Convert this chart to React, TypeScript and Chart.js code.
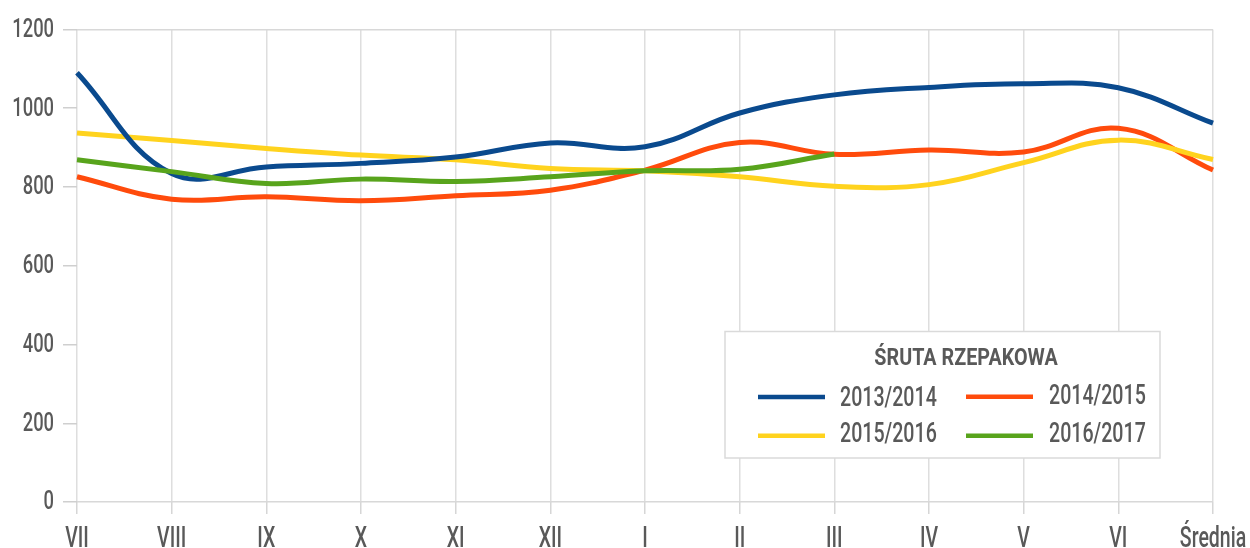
import { useEffect, useRef } from 'react';
import { Chart, registerables } from 'chart.js';

Chart.register(...registerables);

const FONT = "Roboto, 'DejaVu Sans Condensed', sans-serif";
const TEXT = '#595959';

const categories = ['VII', 'VIII', 'IX', 'X', 'XI', 'XII', 'I', 'II', 'III', 'IV', 'V', 'VI', 'Średnia'];
const yTicks = [0, 200, 400, 600, 800, 1000, 1200];

const s2013 = [1090, 834, 851, 860, 876, 912, 902, 988, 1034, 1053, 1062, 1052, 962];
const s2014 = [826, 769, 775, 765, 778, 792, 843, 913, 883, 894, 889, 949, 843];
const s2015 = [937, 918, 898, 881, 869, 847, 841, 826, 802, 806, 862, 919, 870];
const s2016 = [869, 839, 809, 820, 814, 826, 841, 845, 884, null, null, null, null];

const seriesNames = ['2013/2014', '2014/2015', '2015/2016', '2016/2017'];
const seriesColors = ['#0a4a8e', '#ff4b0c', '#ffd31e', '#58a41c'];
const legendTitle = 'ŚRUTA RZEPAKOWA';

function drawText(ctx: CanvasRenderingContext2D, text: string, x: number, y: number, font: string, sx: number, align: CanvasTextAlign) {
  ctx.save();
  ctx.font = font;
  ctx.fillStyle = TEXT;
  ctx.textAlign = align;
  ctx.textBaseline = 'alphabetic';
  ctx.translate(x, y);
  ctx.scale(sx, 1);
  ctx.fillText(text, 0, 0);
  ctx.restore();
}

const textPlugin = {
  id: 'condensedText',
  afterDraw(chart: any) {
    const ctx: CanvasRenderingContext2D = chart.ctx;
    const xs = chart.scales.x;
    const ys = chart.scales.y;
    yTicks.forEach((v) => {
      drawText(ctx, String(v), 54, ys.getPixelForValue(v) + 7.3, `500 25.5px ${FONT}`, 0.72, 'right');
    });
    categories.forEach((c, i) => {
      drawText(ctx, c, xs.getPixelForValue(i), 546.5, `500 30px ${FONT}`, 0.65, 'center');
    });
    ctx.save();
    ctx.fillStyle = '#ffffff';
    ctx.fillRect(725, 331.5, 435, 126.5);
    ctx.strokeStyle = '#dadada';
    ctx.lineWidth = 1.5;
    ctx.strokeRect(725, 331.5, 435, 126.5);
    ctx.restore();
    drawText(ctx, legendTitle, 966, 365, `bold 23.5px ${FONT}`, 0.84, 'center');
    const items = [
      { lineX: 758, textX: 840, lineY: 397, textY: 406 },
      { lineX: 966, textX: 1049, lineY: 396.7, textY: 404 },
      { lineX: 758, textX: 840, lineY: 435.7, textY: 441.7 },
      { lineX: 966, textX: 1049, lineY: 435.7, textY: 441.7 },
    ];
    items.forEach((it, i) => {
      ctx.save();
      ctx.strokeStyle = seriesColors[i];
      ctx.lineWidth = 4.5;
      ctx.beginPath();
      ctx.moveTo(it.lineX, it.lineY);
      ctx.lineTo(it.lineX + 67, it.lineY);
      ctx.stroke();
      ctx.restore();
      drawText(ctx, seriesNames[i], it.textX, it.textY, `500 28px ${FONT}`, 0.7, 'left');
    });
  },
};

export default function App() {
  const ref = useRef<HTMLCanvasElement>(null);

  useEffect(() => {
    const chart = new Chart(ref.current!, {
      type: 'line',
      data: {
        labels: categories,
        datasets: [
          { label: seriesNames[0], data: s2013, borderColor: seriesColors[0], order: 1 },
          { label: seriesNames[1], data: s2014, borderColor: seriesColors[1], order: 3 },
          { label: seriesNames[2], data: s2015, borderColor: seriesColors[2], order: 2 },
          { label: seriesNames[3], data: s2016, borderColor: seriesColors[3], order: 0 },
        ],
      },
      options: {
        animation: false,
        responsive: false,
        layout: { padding: { top: 29.5, right: 37, left: 0, bottom: 0 } },
        plugins: { legend: { display: false }, tooltip: { enabled: false } },
        elements: {
          point: { radius: 0, hoverRadius: 0 },
          line: { tension: 0.4, borderWidth: 5, fill: false },
        },
        scales: {
          x: {
            grid: { color: '#dedede', lineWidth: 1.5, tickLength: 12, tickColor: '#d6d6d6' },
            border: { display: false },
            ticks: { display: false, autoSkip: false, maxRotation: 0 },
            afterFit: (s: any) => { s.height = 46; },
          },
          y: {
            min: 0,
            max: 1200,
            afterBuildTicks: (s: any) => { s.ticks = yTicks.map((v) => ({ value: v })); },
            ticks: { display: false },
            grid: {
              color: (ctx: any) => (ctx.tick && (ctx.tick.value === 0 || ctx.tick.value === 1200) ? '#d8d8d8' : 'rgba(0,0,0,0)'),
              tickColor: '#cfcfcf',
              tickLength: 14,
              lineWidth: 1.5,
            },
            border: { display: false },
            afterFit: (s: any) => { s.width = 77; },
          },
        },
      },
      plugins: [textPlugin],
    });
    return () => chart.destroy();
  }, []);

  return (
    <div style={{ position: 'absolute', left: 0, top: 0, width: 1250, height: 548, background: '#fff' }}>
      <canvas ref={ref} width={1250} height={548} style={{ display: 'block', width: 1250, height: 548 }} />
    </div>
  );
}
